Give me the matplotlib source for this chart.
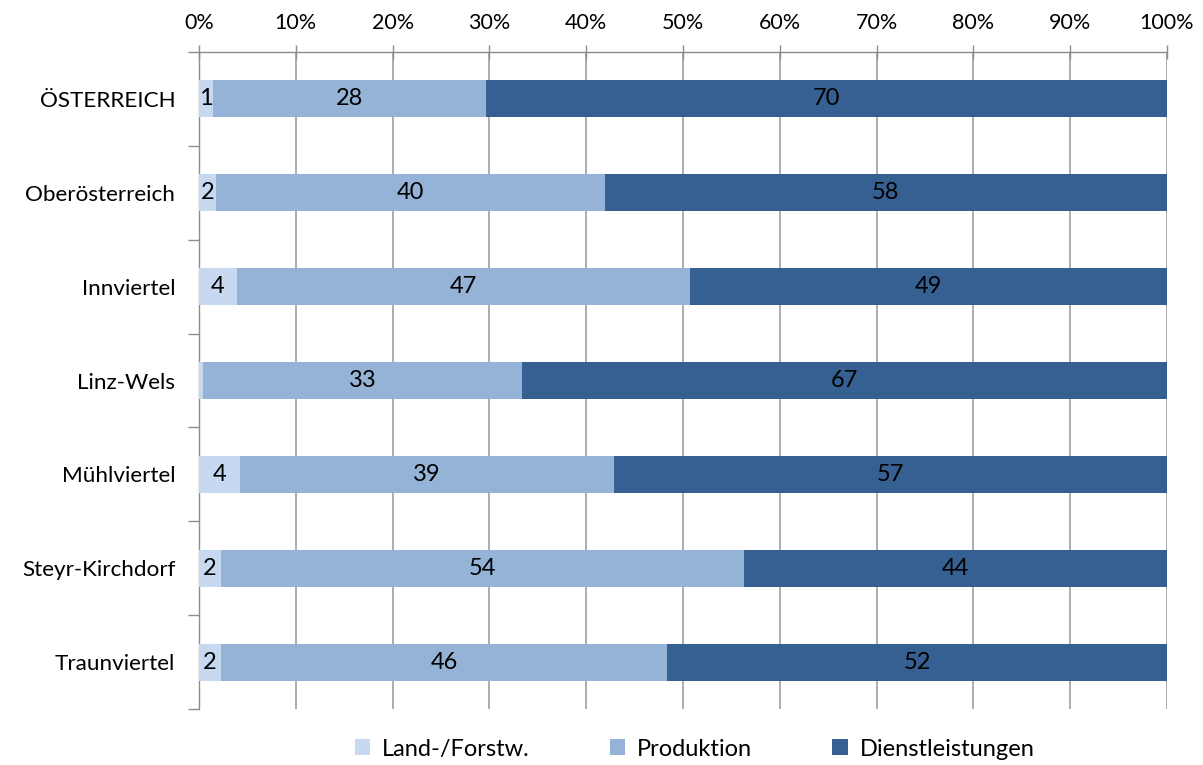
import numpy as np
import matplotlib.pyplot as plt
from matplotlib.ticker import FixedLocator, PercentFormatter

plt.rcParams['font.family'] = ['Lato', 'DejaVu Sans']

regions = ["ÖSTERREICH", "Oberösterreich", "Innviertel", "Linz-Wels",
           "Mühlviertel", "Steyr-Kirchdorf", "Traunviertel"]
land = [1.4, 1.8, 3.9, 0.4, 4.2, 2.3, 2.3]
produktion = [28.3, 40.1, 46.8, 33.0, 38.7, 54.0, 46.1]
dienst = [70.3, 58.1, 49.3, 66.6, 57.1, 43.7, 51.6]

series = [("Land-/Forstw.", land, "#C6D9F1"),
          ("Produktion", produktion, "#95B3D7"),
          ("Dienstleistungen", dienst, "#376092")]

fig = plt.figure(figsize=(12.03, 7.65), dpi=100)
ax = fig.add_axes([0.1654, 0.0732, 0.8046, 0.8588])

y = np.arange(len(regions))
left = np.zeros(len(regions))
for name, vals, color in series:
    vals = np.array(vals)
    bars = ax.barh(y, vals, left=left, height=0.395, color=color,
                   label=name, zorder=3)
    for b, v in zip(bars, vals):
        if round(v) == 0:
            continue
        ax.text(b.get_x() + b.get_width() / 2, b.get_y() + b.get_height() / 2,
                f"{v:.0f}", ha="center", va="center", fontsize=17,
                color="black", zorder=4)
    left += vals

ax.set_xlim(0, 100)
ax.set_ylim(len(regions) - 0.5, -0.5)

ax.xaxis.set_major_locator(FixedLocator(np.arange(0, 101, 10)))
ax.xaxis.set_major_formatter(PercentFormatter(decimals=0))
ax.xaxis.tick_top()
ax.tick_params(axis="x", direction="inout", length=10, width=1,
               color="#8C8C8C", labelsize=15.5, pad=9)
ax.grid(axis="x", color="#A6A6A6", linewidth=1.3, zorder=0)

ax.set_yticks(y)
ax.set_yticklabels(regions)
ax.set_yticks(np.arange(-0.5, len(regions)), minor=True)
ax.tick_params(axis="y", which="major", length=0, labelsize=16.2, pad=17)
ax.tick_params(axis="y", which="minor", length=8, width=1, color="#8C8C8C",
               direction="out")

for s in ["right", "bottom"]:
    ax.spines[s].set_visible(False)
for s in ["left", "top"]:
    ax.spines[s].set_color("#8C8C8C")
    ax.spines[s].set_linewidth(1)

ax.legend(loc="center", bbox_to_anchor=(0.512, -0.061), ncol=3,
          frameon=False, fontsize=17, handlelength=0.65, handleheight=0.65,
          columnspacing=3.4, handletextpad=0.5, borderpad=0)

fig.savefig("out.png", dpi=100)
